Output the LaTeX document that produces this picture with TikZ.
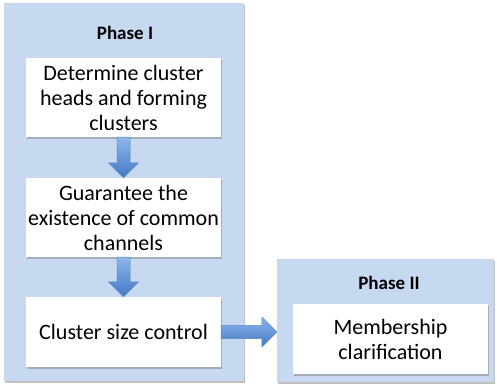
\documentclass[tikz,border=0pt]{standalone}
\usepackage{fontspec}
\setmainfont{Carlito}
\usetikzlibrary{calc,shadows,positioning}
\definecolor{phasefill}{HTML}{C6D9F1}
\definecolor{arrowtop}{HTML}{8DB7EE}
\definecolor{arrowbot}{HTML}{4577C4}
\definecolor{arrowline}{HTML}{5585C4}
\tikzset{
  boxshadow/.style={drop shadow={shadow xshift=1pt,shadow yshift=-1.5pt,fill=black!50,opacity=.5}},
  phasebox/.style={fill=phasefill,inner sep=0pt,boxshadow},
  stepbox/.style={fill=white,inner sep=0pt,minimum width=195pt,align=center,
    font=\fontsize{22}{25}\selectfont,boxshadow},
  phasetitle/.style={font=\fontsize{19}{22}\selectfont\bfseries},
  fatarrow/.style={top color=arrowtop,bottom color=arrowbot,draw=arrowline,line width=.5pt,
    to path={($(\tikztostart)!6.5pt!90:(\tikztotarget)$)
      -- ($(\tikztotarget)!15pt!(\tikztostart)!6.5pt!90:(\tikztotarget)$)
      -- ($(\tikztotarget)!15pt!(\tikztostart)!15pt!90:(\tikztotarget)$)
      -- (\tikztotarget)
      -- ($(\tikztotarget)!15pt!(\tikztostart)!15pt!-90:(\tikztotarget)$)
      -- ($(\tikztotarget)!15pt!(\tikztostart)!6.5pt!-90:(\tikztotarget)$)
      -- ($(\tikztostart)!6.5pt!-90:(\tikztotarget)$) -- cycle}}
}
\begin{document}
\begin{tikzpicture}[x=1pt,y=-1pt]
  \useasboundingbox (0,0) rectangle (497,386);
  % the two phases
  \node[phasebox,minimum width=240pt,minimum height=378pt] (phaseI) at (124,192) {};
  \node[phasebox,minimum width=217pt,minimum height=123pt] (phaseII) at (385.5,320.5) {};
  \node[phasetitle] (titleI) at (125,33) {Phase I};
  \node[phasetitle] (titleII) at (389,283) {Phase II};
  % steps
  \node[stepbox,minimum height=79pt] (heads) at (123.5,97.5) {Determine cluster\\heads and forming\\clusters};
  \node[stepbox,minimum height=79pt] (channels) at (123.5,217.5) {Guarantee the\\existence of common\\channels};
  \node[stepbox,minimum height=70pt] (size) at (123.5,332) {Cluster size control};
  \node[stepbox,minimum height=70pt] (member) at (390.5,339) {Membership\\clarification};
  % arrows
  \path[fatarrow] (heads.south) to (channels.north);
  \path[fatarrow] (channels.south) to (size.north);
  \path[fatarrow] (size.east) to (phaseII.west |- size.east);
\end{tikzpicture}
\end{document}
